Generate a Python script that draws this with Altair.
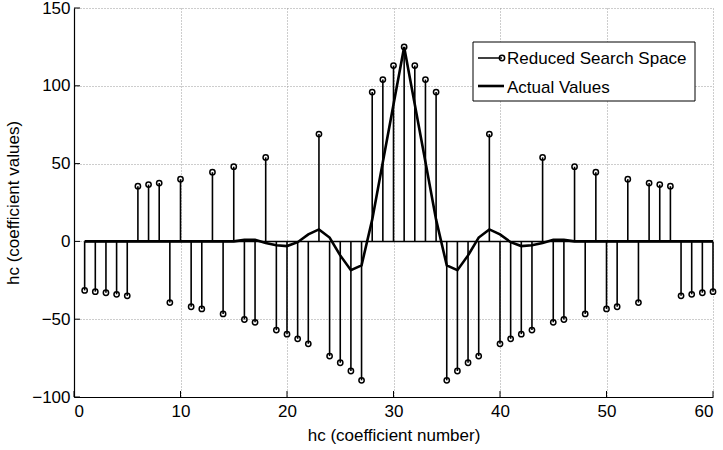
import altair as alt
import pandas as pd

# ---- data ----
coef_n = list(range(1, 61))
reduced_vals = [-31.5, -32.3, -33, -34, -35, 35.5, 36.5, 37.5, -39.3, 40,
                -42, -43.4, 44.5, -46.6, 48, -50.2, -52, 54, -57, -59.6,
                -62.6, -65.8, 69, -73.7, -78, -83.3, -89.3, 96, 104, 113,
                125, 113, 104, 96, -89.3, -83.3, -78, -73.7, 69, -65.8,
                -62.6, -59.6, -57, 54, -52, -50.2, 48, -46.6, 44.5, -43.4,
                -42, 40, -39.3, 37.5, 36.5, 35.5, -35, -34, -33, -32.3]
actual_vals = [0, 0, 0, 0, 0, 0, 0, 0, 0, 0,
               0, 0, 0, 0, 0, 1, 1, -1, -2.5, -3,
               -0.5, 4.5, 7.7, 2.5, -9, -18.5, -15.4, 14, 51, 88,
               125, 88, 51, 14, -15.4, -18.5, -9, 2.5, 7.7, 4.5,
               -0.5, -3, -2.5, -1, 1, 1, 0, 0, 0, 0,
               0, 0, 0, 0, 0, 0, 0, 0, 0, 0]
x_ticks = [0, 10, 20, 30, 40, 50, 60]
y_ticks = [-100, -50, 0, 50, 100, 150]
legend_labels = ["Reduced Search Space", "Actual Values"]

df = pd.DataFrame({"n": coef_n, "reduced": reduced_vals,
                   "actual": actual_vals, "zero": [0] * len(coef_n)})
xt = pd.DataFrame({"n": x_ticks})
yt = pd.DataFrame({"zero": y_ticks})
one = pd.DataFrame({"k": [0]})

W, H = 639, 389
FONT = "Liberation Sans"
FS = 17

xs = alt.Scale(domain=[0, 60], nice=False, zero=False)
ys = alt.Scale(domain=[-100, 150], nice=False, zero=False)

x_axis = alt.Axis(values=x_ticks, title="hc (coefficient number)", grid=True,
                  ticks=False, labelPadding=6, titlePadding=8, format="d")
y_axis = alt.Axis(values=y_ticks, title="hc (coefficient values)", grid=True,
                  ticks=False, labelPadding=4, titleX=-52, format="d")


def X(field):
    return alt.X(f"{field}:Q", scale=xs, axis=x_axis, title="hc (coefficient number)")


def Y(field):
    return alt.Y(f"{field}:Q", scale=ys, axis=y_axis, title="hc (coefficient values)")


baseline = alt.Chart(df).mark_line(color="black", strokeWidth=1.5).encode(
    x=X("n"), y=Y("zero"))

stems = alt.Chart(df).mark_rule(color="black", strokeWidth=1.6).encode(
    x=X("n"), y=Y("zero"), y2="reduced:Q")

circles = alt.Chart(df).mark_point(shape="circle", filled=False, color="black",
                                   size=28, strokeWidth=1.5, opacity=1).encode(
    x=X("n"), y=Y("reduced"))

actual = alt.Chart(df).mark_line(color="black", strokeWidth=2.6).encode(
    x=X("n"), y=Y("actual"))

xticks = alt.Chart(xt).mark_rule(color="black", strokeWidth=1).encode(
    x=X("n"), y=alt.value(H), y2=alt.value(H - 6))

yticks = alt.Chart(yt).mark_rule(color="black", strokeWidth=1).encode(
    y=Y("zero"), x=alt.value(0), x2=alt.value(6))

# ---- legend (drawn) ----
LX0, LX1, LY0, LY1 = 399, 621, 34, 93
leg_box = alt.Chart(one).mark_rect(fill="white", stroke="black",
                                   strokeWidth=1).encode(
    x=alt.value(LX0), x2=alt.value(LX1), y=alt.value(LY0), y2=alt.value(LY1))

leg_line1 = alt.Chart(one).mark_rule(color="black", strokeWidth=1.5).encode(
    x=alt.value(404), x2=alt.value(428), y=alt.value(50))
leg_circ = alt.Chart(one).mark_point(shape="circle", filled=False, color="black",
                                     size=28, strokeWidth=1.5, opacity=1).encode(
    x=alt.value(428), y=alt.value(50))
leg_line2 = alt.Chart(one).mark_rule(color="black", strokeWidth=2.6).encode(
    x=alt.value(404), x2=alt.value(430), y=alt.value(78))
leg_text1 = alt.Chart(one).mark_text(align="left", baseline="alphabetic",
                                     font=FONT, fontSize=FS, color="black",
                                     text=legend_labels[0]).encode(
    x=alt.value(433), y=alt.value(56))
leg_text2 = alt.Chart(one).mark_text(align="left", baseline="alphabetic",
                                     font=FONT, fontSize=FS, color="black",
                                     text=legend_labels[1]).encode(
    x=alt.value(433), y=alt.value(85))

chart = alt.layer(
    baseline, stems, circles, actual, xticks, yticks,
    leg_box, leg_line1, leg_circ, leg_line2, leg_text1, leg_text2
).properties(
    width=W, height=H,
    autosize=alt.AutoSizeParams(type="none"),
    padding={"left": 74, "top": 8, "right": 10, "bottom": 53},
).configure_view(stroke=None).configure_axis(
    domainColor="black", domainWidth=1.2,
    gridColor="#9a9a9a", gridDash=[1, 2], gridWidth=1, gridOpacity=1,
    labelFont=FONT, labelFontSize=FS, labelColor="black",
    titleFont=FONT, titleFontSize=FS, titleColor="black", titleFontWeight="normal",
)

chart.save("out.html", embed_options={"renderer": "svg", "actions": False})
